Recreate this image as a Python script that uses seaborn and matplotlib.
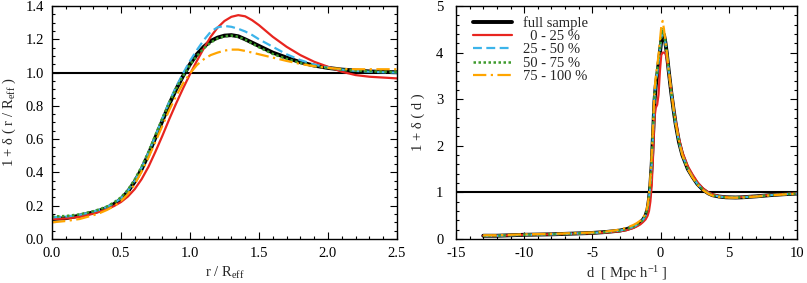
import seaborn as sns
import matplotlib.pyplot as plt
from matplotlib.ticker import MultipleLocator, FormatStrFormatter

# left panel: 1 + delta(r / R_eff)
r_vals = [0.0, 0.1, 0.2, 0.3, 0.35, 0.4, 0.45, 0.5, 0.55, 0.6, 0.65, 0.7, 0.75, 0.8, 0.85,
          0.9, 0.95, 1.0, 1.05, 1.1, 1.15, 1.2, 1.25, 1.3, 1.35, 1.4, 1.45, 1.5, 1.6, 1.7,
          1.8, 1.9, 2.0, 2.1, 2.2, 2.3, 2.4, 2.5]
r_full = [0.12, 0.125, 0.14, 0.16, 0.172, 0.188, 0.21, 0.24, 0.285, 0.345, 0.42, 0.51, 0.61, 0.71, 0.81,
          0.90, 0.98, 1.05, 1.11, 1.155, 1.19, 1.21, 1.222, 1.225, 1.218, 1.20, 1.18, 1.16, 1.12, 1.09,
          1.062, 1.042, 1.028, 1.018, 1.012, 1.007, 1.004, 1.002]
r_q1 = [0.12, 0.123, 0.133, 0.152, 0.165, 0.18, 0.198, 0.222, 0.255, 0.30, 0.36, 0.435, 0.525, 0.62, 0.72,
        0.815, 0.905, 0.99, 1.07, 1.145, 1.215, 1.27, 1.31, 1.335, 1.345, 1.338, 1.315, 1.285, 1.215, 1.155,
        1.105, 1.065, 1.035, 1.005, 0.985, 0.975, 0.97, 0.965]
r_q2 = [0.13, 0.135, 0.145, 0.165, 0.177, 0.193, 0.215, 0.245, 0.29, 0.35, 0.43, 0.52, 0.62, 0.725, 0.825,
        0.915, 0.995, 1.07, 1.135, 1.195, 1.245, 1.272, 1.28, 1.275, 1.263, 1.247, 1.226, 1.20, 1.155, 1.11,
        1.075, 1.048, 1.03, 1.018, 1.01, 1.005, 1.002, 1.0]
r_q3 = [0.135, 0.138, 0.148, 0.167, 0.18, 0.196, 0.22, 0.25, 0.295, 0.358, 0.435, 0.525, 0.625, 0.725, 0.82,
        0.905, 0.98, 1.045, 1.10, 1.145, 1.18, 1.205, 1.218, 1.222, 1.215, 1.198, 1.175, 1.152, 1.112, 1.082,
        1.058, 1.04, 1.027, 1.018, 1.012, 1.008, 1.005, 1.003]
r_q4 = [0.10, 0.108, 0.12, 0.143, 0.157, 0.175, 0.198, 0.228, 0.27, 0.33, 0.405, 0.49, 0.585, 0.68, 0.775,
        0.86, 0.935, 0.995, 1.045, 1.08, 1.105, 1.12, 1.132, 1.138, 1.138, 1.13, 1.12, 1.11, 1.09, 1.07,
        1.052, 1.038, 1.028, 1.022, 1.02, 1.02, 1.02, 1.02]

# right panel: 1 + delta(d)
d_vals = [-13, -12, -11, -10, -9, -8, -7, -6, -5, -4, -3, -2.5, -2, -1.75, -1.5, -1.3, -1.1,
          -0.95, -0.85, -0.75, -0.65, -0.55, -0.45, -0.35, -0.25, -0.15, -0.05, 0.05, 0.15, 0.25,
          0.35, 0.45, 0.6, 0.78, 0.95, 1.1, 1.35, 1.6, 2.0, 2.35, 2.7, 3.1, 3.5, 3.8, 4.3, 4.8,
          5.5, 6.0, 7.0, 8.0, 9.0, 10.0]
d_full = [0.07, 0.07, 0.08, 0.09, 0.095, 0.10, 0.11, 0.12, 0.13, 0.15, 0.18, 0.21, 0.26, 0.30, 0.35, 0.41, 0.50,
          0.65, 0.85, 1.15, 1.6, 2.25, 2.95, 3.3, 3.5, 3.75, 4.0, 4.25, 4.42, 4.38,
          4.22, 4.0, 3.6, 3.15, 2.78, 2.48, 2.08, 1.8, 1.5, 1.33, 1.18, 1.06, 0.98, 0.94, 0.91, 0.895,
          0.89, 0.895, 0.915, 0.94, 0.96, 0.975]
d_q1 = [0.07, 0.07, 0.08, 0.09, 0.095, 0.10, 0.11, 0.118, 0.125, 0.14, 0.165, 0.19, 0.235, 0.27, 0.31, 0.36, 0.42,
        0.50, 0.60, 0.80, 1.15, 1.8, 2.6, 2.82, 2.88, 3.1, 3.6, 3.95, 4.0, 4.0,
        3.98, 3.88, 3.58, 3.18, 2.82, 2.55, 2.15, 1.86, 1.56, 1.38, 1.22, 1.09, 1.0, 0.96, 0.92, 0.90,
        0.895, 0.90, 0.92, 0.945, 0.965, 0.98]
d_q2 = [0.07, 0.07, 0.08, 0.09, 0.095, 0.10, 0.11, 0.12, 0.13, 0.15, 0.18, 0.21, 0.26, 0.30, 0.35, 0.41, 0.50,
        0.66, 0.87, 1.18, 1.65, 2.3, 3.0, 3.35, 3.55, 3.8, 4.05, 4.3, 4.45, 4.4,
        4.22, 4.0, 3.6, 3.15, 2.78, 2.48, 2.08, 1.8, 1.5, 1.33, 1.18, 1.06, 0.98, 0.94, 0.91, 0.895,
        0.89, 0.895, 0.915, 0.94, 0.96, 0.975]
d_q3 = [0.07, 0.07, 0.08, 0.09, 0.095, 0.10, 0.11, 0.12, 0.13, 0.15, 0.18, 0.21, 0.26, 0.30, 0.35, 0.41, 0.51,
        0.67, 0.88, 1.2, 1.68, 2.35, 3.05, 3.4, 3.6, 3.85, 4.1, 4.35, 4.5, 4.42,
        4.24, 4.02, 3.6, 3.15, 2.78, 2.48, 2.08, 1.8, 1.5, 1.33, 1.18, 1.06, 0.98, 0.94, 0.91, 0.895,
        0.89, 0.895, 0.915, 0.94, 0.96, 0.975]
d_q4 = [0.08, 0.08, 0.09, 0.10, 0.105, 0.11, 0.12, 0.13, 0.14, 0.16, 0.20, 0.24, 0.30, 0.34, 0.39, 0.45, 0.55,
        0.72, 0.95, 1.3, 1.8, 2.45, 3.15, 3.5, 3.7, 3.95, 4.25, 4.55, 4.68, 4.5,
        4.25, 4.02, 3.62, 3.17, 2.8, 2.5, 2.1, 1.8, 1.5, 1.32, 1.17, 1.05, 0.97, 0.93, 0.90, 0.89,
        0.885, 0.89, 0.91, 0.935, 0.955, 0.97]

labels = ['full sample', '  0 - 25 %', '25 - 50 %', '50 - 75 %', '75 - 100 %']
colors = ['black', '#e8251f', '#3cb4ea', '#3d9a2c', '#ffa500']
styles = ['-', '-', (0, (4, 2)), (0, (1, 1)), (0, (6, 2, 1, 2))]
widths = [2.8, 1.6, 1.6, 1.8, 1.6]

sns.set_theme(style='ticks')
plt.rcParams['font.family'] = ['Liberation Serif', 'DejaVu Serif']
plt.rcParams['mathtext.default'] = 'regular'
plt.rcParams['axes.unicode_minus'] = False
plt.rcParams['axes.linewidth'] = 1.0

fig = plt.figure(figsize=(8.07, 2.83), dpi=100)
ax1 = fig.add_axes([0.0644, 0.1555, 0.4275, 0.8233])
ax2 = fig.add_axes([0.565, 0.1555, 0.4226, 0.8233])

left_series = [r_full, r_q1, r_q2, r_q3, r_q4]
right_series = [d_full, d_q1, d_q2, d_q3, d_q4]

# full sample underneath, subsamples drawn over it
for i in range(5):
    sns.lineplot(x=r_vals, y=left_series[i], ax=ax1, color=colors[i], linestyle=styles[i],
                 linewidth=widths[i], legend=False)
    sns.lineplot(x=d_vals, y=right_series[i], ax=ax2, color=colors[i], linestyle=styles[i],
                 linewidth=widths[i], legend=False)

ax1.axhline(1.0, color='black', linewidth=1.5, zorder=1)
ax2.axhline(1.0, color='black', linewidth=1.5, zorder=1)

ax1.set_xlim(0, 2.5)
ax1.set_ylim(0, 1.4)
ax1.xaxis.set_major_locator(MultipleLocator(0.5))
ax1.xaxis.set_minor_locator(MultipleLocator(0.1))
ax1.yaxis.set_major_locator(MultipleLocator(0.2))
ax1.yaxis.set_minor_locator(MultipleLocator(0.05))
ax1.xaxis.set_major_formatter(FormatStrFormatter('%.1f'))
ax1.yaxis.set_major_formatter(FormatStrFormatter('%.1f'))
ax1.set_xlabel('r / R$_{eff}$', fontsize=10.5, labelpad=3)
ax1.set_ylabel('1 + δ ( r / R$_{eff}$ )', fontsize=10.5, labelpad=5)

ax2.set_xlim(-15, 10)
ax2.set_ylim(0, 5)
ax2.xaxis.set_major_locator(MultipleLocator(5))
ax2.xaxis.set_minor_locator(MultipleLocator(1))
ax2.yaxis.set_major_locator(MultipleLocator(1))
ax2.yaxis.set_minor_locator(MultipleLocator(0.2))
ax2.set_xlabel('d  [ Mpc h$^{-1}$ ]', fontsize=10.5, labelpad=3)
ax2.set_ylabel('1 + δ ( d )', fontsize=10.5, labelpad=8)

for ax in (ax1, ax2):
    for s in ax.spines.values():
        s.set_visible(True)
        s.set_color('black')
    ax.tick_params(which='both', direction='in', top=True, right=True, labelsize=10.5,
                   colors='black', width=0.8)
    ax.tick_params(which='major', length=5)
    ax.tick_params(which='minor', length=2.5)
    ax.tick_params(axis='x', which='major', pad=6)
ax1.tick_params(axis='y', which='major', pad=6)
ax2.tick_params(axis='y', which='major', pad=9)

handles = [plt.Line2D([], [], color=colors[i], linestyle=styles[i], linewidth=widths[i])
           for i in range(5)]
ax2.legend(handles, labels, loc='upper left', frameon=False, fontsize=10.5,
           handlelength=2.7, handletextpad=0.7, labelspacing=0.0,
           borderaxespad=0.3, bbox_to_anchor=(0.02, 1.0))

fig.savefig('out.png', dpi=100)
